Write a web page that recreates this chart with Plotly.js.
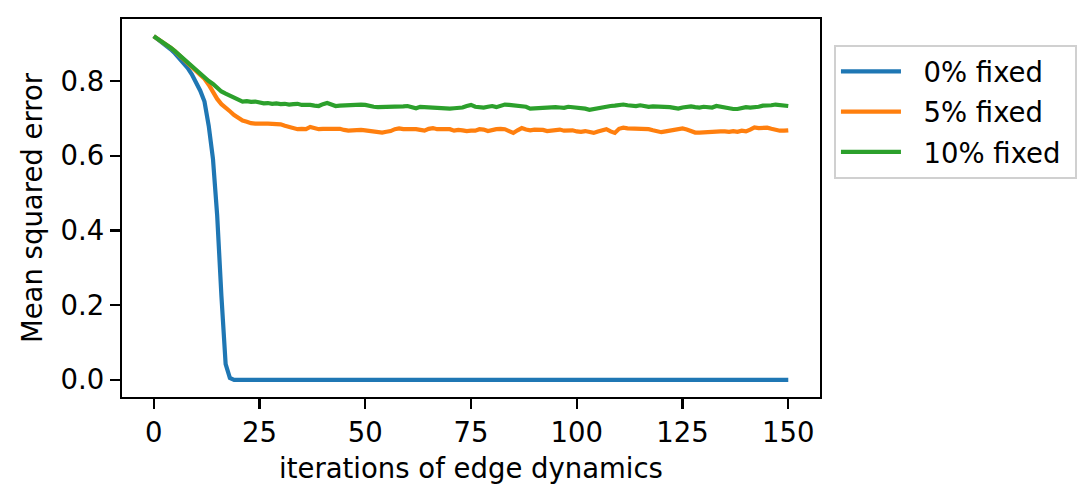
<!DOCTYPE html>
<html>
<head>
<meta charset="utf-8">
<script src="https://cdn.plot.ly/plotly-3.0.1.min.js"></script>
<style>html,body{margin:0;padding:0;background:#fff;}#chart{width:1092px;height:504px;}</style>
</head>
<body>
<div id="chart"></div>
<script>
// Series labels
const seriesNames = ["0% fixed", "5% fixed", "10% fixed"];

// Mean squared error, 0% fixed (iterations 0..150)
const mse0 = [
  0.920,0.912,0.904,0.895,0.885,0.874,0.862,0.849,0.835,0.818,
  0.798,0.774,0.745,0.680,0.592,0.440,0.225,0.042,0.005,0,
  0,0,0,0,0,0,0,0,0,0,
  0,0,0,0,0,0,0,0,0,0,
  0,0,0,0,0,0,0,0,0,0,
  0,0,0,0,0,0,0,0,0,0,
  0,0,0,0,0,0,0,0,0,0,
  0,0,0,0,0,0,0,0,0,0,
  0,0,0,0,0,0,0,0,0,0,
  0,0,0,0,0,0,0,0,0,0,
  0,0,0,0,0,0,0,0,0,0,
  0,0,0,0,0,0,0,0,0,0,
  0,0,0,0,0,0,0,0,0,0,
  0,0,0,0,0,0,0,0,0,0,
  0,0,0,0,0,0,0,0,0,0,
  0
];

// Mean squared error, 5% fixed
const mse5 = [
  0.920,0.913,0.905,0.897,0.889,0.880,0.870,0.860,0.849,0.838,
  0.827,0.816,0.806,0.790,0.770,0.752,0.738,0.727,0.719,0.709,
  0.700,0.694,0.691,0.687,0.686,0.687,0.686,0.686,0.685,0.684,
  0.684,0.680,0.677,0.673,0.671,0.672,0.671,0.677,0.675,0.671,
  0.672,0.672,0.671,0.673,0.672,0.669,0.667,0.668,0.669,0.669,
  0.668,0.666,0.665,0.663,0.662,0.664,0.666,0.671,0.673,0.671,
  0.671,0.673,0.671,0.669,0.667,0.672,0.674,0.671,0.671,0.670,
  0.671,0.667,0.669,0.668,0.666,0.667,0.667,0.671,0.670,0.666,
  0.669,0.671,0.672,0.671,0.666,0.661,0.668,0.674,0.670,0.668,
  0.670,0.670,0.669,0.666,0.667,0.670,0.670,0.667,0.668,0.668,
  0.665,0.664,0.666,0.663,0.661,0.665,0.668,0.671,0.665,0.661,
  0.672,0.675,0.673,0.673,0.673,0.673,0.672,0.671,0.668,0.664,
  0.663,0.665,0.667,0.669,0.671,0.673,0.670,0.665,0.662,0.662,
  0.663,0.664,0.664,0.664,0.665,0.665,0.664,0.666,0.664,0.667,
  0.665,0.670,0.676,0.674,0.674,0.675,0.672,0.669,0.667,0.667,
  0.668
];

// Mean squared error, 10% fixed
const mse10 = [
  0.920,0.913,0.905,0.897,0.889,0.880,0.870,0.860,0.850,0.839,
  0.829,0.818,0.808,0.800,0.792,0.781,0.772,0.766,0.760,0.755,
  0.748,0.745,0.746,0.744,0.745,0.742,0.740,0.741,0.739,0.740,
  0.738,0.739,0.737,0.738,0.739,0.736,0.737,0.736,0.734,0.733,
  0.738,0.741,0.737,0.733,0.734,0.735,0.736,0.735,0.736,0.737,
  0.736,0.733,0.731,0.730,0.730,0.731,0.732,0.731,0.731,0.732,
  0.733,0.729,0.727,0.731,0.730,0.729,0.728,0.729,0.728,0.727,
  0.726,0.727,0.727,0.729,0.733,0.736,0.731,0.729,0.729,0.731,
  0.733,0.730,0.735,0.737,0.736,0.735,0.734,0.733,0.731,0.726,
  0.727,0.728,0.727,0.729,0.731,0.730,0.729,0.728,0.731,0.730,
  0.728,0.727,0.726,0.723,0.725,0.729,0.730,0.732,0.733,0.734,
  0.736,0.737,0.735,0.734,0.733,0.735,0.732,0.731,0.732,0.732,
  0.731,0.731,0.730,0.728,0.726,0.729,0.731,0.732,0.730,0.729,
  0.731,0.730,0.729,0.733,0.731,0.728,0.727,0.725,0.725,0.728,
  0.730,0.729,0.729,0.731,0.734,0.734,0.735,0.737,0.736,0.735,
  0.733
];

// Axis ticks
const xTicks = [0, 25, 50, 75, 100, 125, 150];
const yTicks = [0.0, 0.2, 0.4, 0.6, 0.8];

const iterations = mse0.map((_, i) => i);
const colors = ["#1f77b4", "#ff7f0e", "#2ca02c"];
const allSeries = [mse0, mse5, mse10];

const FONT = "DejaVu Sans, sans-serif";
const FS = 27.5;
const NB = "\u00a0\u00a0";

const traces = allSeries.map((ys, k) => ({
  type: "scatter",
  mode: "lines",
  x: iterations,
  y: ys,
  name: NB + seriesNames[k] + "\u00a0",
  legendgroup: "g" + k,
  line: {color: colors[k], width: 4.2},
  hoverinfo: "skip"
}));

const axisCommon = {
  showline: true, mirror: true, linecolor: "#000", linewidth: 2.2,
  ticks: "outside", ticklen: 10, tickwidth: 2.2, tickcolor: "#000",
  showgrid: false, zeroline: false, automargin: false,
  tickfont: {family: FONT, size: FS, color: "#000"}
};

const layout = {
  width: 1092, height: 504,
  margin: {l: 122, r: 272, t: 19, b: 107, pad: 0},
  paper_bgcolor: "#fff", plot_bgcolor: "#fff",
  font: {family: FONT, size: FS, color: "#000"},
  showlegend: true,
  legend: {
    x: 1.02, xanchor: "left", y: 0.931, yanchor: "top",
    bgcolor: "#fff", bordercolor: "#d0d0d0", borderwidth: 2,
    font: {family: FONT, size: FS, color: "#000"},
    itemwidth: 60, tracegroupgap: 1.5
  },
  xaxis: Object.assign({}, axisCommon, {
    range: [-7.5, 157.5], tickvals: xTicks, ticktext: xTicks.map(String),
    title: {text: "iterations of edge dynamics", standoff: 12, font: {family: FONT, size: FS, color: "#000"}}
  }),
  yaxis: Object.assign({}, axisCommon, {
    range: [-0.046, 0.966], tickvals: yTicks, ticktext: yTicks.map(v => v.toFixed(1)),
    title: {text: "Mean squared error", standoff: 10, font: {family: FONT, size: FS, color: "#000"}}
  })
};

Plotly.newPlot("chart", traces, layout, {staticPlot: true, displayModeBar: false});
</script>
</body>
</html>
